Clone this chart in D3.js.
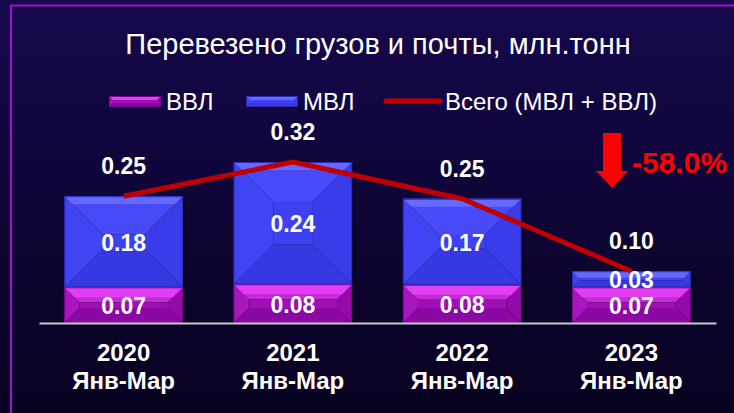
<!DOCTYPE html>
<html><head><meta charset="utf-8">
<script src="https://cdn.jsdelivr.net/npm/d3@7"></script>
<style>html,body{margin:0;padding:0;background:#0a0224;}svg{display:block;}</style>
</head><body>
<svg id="c" width="734" height="413"></svg>
<script>
const years = ["2020", "2021", "2022", "2023"];
const period = "Янв-Мар";
const vvl = [0.071, 0.077, 0.076, 0.071];
const mvl = [0.181, 0.243, 0.171, 0.032];
const totalLabels = ["0.25", "0.32", "0.25", "0.10"];
const changeLabel = "-58.0%";
const title = "Перевезено грузов и почты, млн.тонн";
const legendNames = ["ВВЛ", "МВЛ", "Всего (МВЛ + ВВЛ)"];

const W = 734, H = 413;
const svg = d3.select("#c");
const defs = svg.append("defs");
const bg = defs.append("linearGradient").attr("id","bg").attr("x1",0).attr("y1",0).attr("x2",0).attr("y2",1);
bg.append("stop").attr("offset","0%").attr("stop-color","#15084c");
bg.append("stop").attr("offset","100%").attr("stop-color","#080220");
svg.append("rect").attr("width",W).attr("height",H).attr("fill","url(#bg)");
svg.append("path").attr("d","M11,413 V5.5 H734").attr("fill","none").attr("stroke","#9b12cc").attr("stroke-width",2.2);

const F = "'Liberation Sans', Arial, sans-serif";
svg.append("text").attr("x",378).attr("y",54).attr("text-anchor","middle")
  .attr("fill","#fff").attr("font-family",F).attr("font-size",29).text(title);

const x = d3.scaleBand().domain(years).range([39,716]).paddingInner(0.3).paddingOuter(0.15);
const y = d3.scaleLinear().domain([0,0.35]).range([323, 323-0.35*503]);

const pal = {
  vvl:{band:"#e43ef4", top:"#c42ad8", left:"#a816bf", right:"#930aa9", bot:"#8c08a2", face:"#9e10b6", edge:"#7a0890"},
  mvl:{band:"#6669ff", top:"#474af6", left:"#4144f2", right:"#393ce8", bot:"#3639e2", face:"#3e41f0", edge:"#2a2cb8"}
};

function bevel(g, x0, y0, w, h, c, insetMax, bandH){
  const b = Math.min(w*0.42, h*0.42, insetMax||40);
  const x1 = x0+w, y1 = y0+h;
  const ix0 = x0+b, ix1 = x1-b, iy0 = y0+b, iy1 = y1-b;
  const poly = (pts, fill) => g.append("polygon").attr("points", pts.map(p=>p.join(",")).join(" ")).attr("fill", fill);
  poly([[x0,y0],[x1,y0],[ix1,iy0],[ix0,iy0]], c.top);
  poly([[x0,y0],[ix0,iy0],[ix0,iy1],[x0,y1]], c.left);
  poly([[x1,y0],[x1,y1],[ix1,iy1],[ix1,iy0]], c.right);
  poly([[x0,y1],[ix0,iy1],[ix1,iy1],[x1,y1]], c.bot);
  if (ix1>ix0 && iy1>iy0) g.append("rect").attr("x",ix0).attr("y",iy0).attr("width",ix1-ix0).attr("height",iy1-iy0).attr("fill",c.face);
  const bh = Math.min(bandH||0, h*0.4);
  if (bh>0) poly([[x0,y0],[x1,y0],[x1-bh,y0+bh],[x0+bh,y0+bh]], c.band);
  g.append("rect").attr("x",x0+0.5).attr("y",y0+0.5).attr("width",w-1).attr("height",h-1).attr("fill","none").attr("stroke",c.edge).attr("stroke-width",1);
}

const bars = svg.append("g");
years.forEach((yr,i)=>{
  const bx = x(yr), bw = x.bandwidth();
  bars.append("rect").attr("x",bx+4).attr("y",y(vvl[i]+mvl[i])+3).attr("width",bw).attr("height",y(0)-y(vvl[i]+mvl[i])-3)
    .attr("fill","#000").attr("opacity",0.25);
  bevel(bars, bx, y(vvl[i]), bw, y(0)-y(vvl[i]), pal.vvl, 15, 10);
  bevel(bars, bx, y(vvl[i]+mvl[i]), bw, y(vvl[i])-y(vvl[i]+mvl[i]), pal.mvl, 40, 8);
});

const ax = svg.append("g").attr("transform",`translate(0,${y(0)})`)
  .call(d3.axisBottom(x).tickSize(0).tickFormat(""));
ax.select(".domain").attr("stroke","#c8c8c8").attr("stroke-width",2);

const cl = svg.append("g").attr("font-family",F).attr("font-weight","bold").attr("font-size",24).attr("fill","#fff").attr("text-anchor","middle");
years.forEach(yr=>{
  const cx = x(yr)+x.bandwidth()/2;
  cl.append("text").attr("x",cx).attr("y",361).text(yr);
  cl.append("text").attr("x",cx).attr("y",389).text(period);
});

const tot = years.map((yr,i)=>[x(yr)+x.bandwidth()/2, y(vvl[i]+mvl[i])]);
svg.append("path").attr("d", d3.line()(tot)).attr("fill","none").attr("stroke","#c00000").attr("stroke-width",5).attr("stroke-linejoin","round");

const vl = svg.append("g").attr("font-family",F).attr("font-weight","bold").attr("font-size",23).attr("fill","#fff").attr("text-anchor","middle").attr("dominant-baseline","central");
const f2 = d3.format(".2f");
years.forEach((yr,i)=>{
  const cx = x(yr)+x.bandwidth()/2;
  vl.append("text").attr("x",cx).attr("y",(y(0)+y(vvl[i]))/2+1).text(f2(vvl[i]));
  vl.append("text").attr("x",cx).attr("y",(y(vvl[i])+y(vvl[i]+mvl[i]))/2+1).text(f2(mvl[i]));
  vl.append("text").attr("x",cx).attr("y",y(vvl[i]+mvl[i])-30).text(totalLabels[i]);
});

const lg = svg.append("g").attr("font-family",F).attr("font-size",24).attr("fill","#fff");
bevel(lg, 109, 96, 52, 11, pal.vvl, 4, 4);
lg.append("text").attr("x",166).attr("y",110).text(legendNames[0]);
bevel(lg, 246, 96, 52, 11, pal.mvl, 4, 4);
lg.append("text").attr("x",303).attr("y",110).text(legendNames[1]);
lg.append("line").attr("x1",386).attr("x2",440).attr("y1",101).attr("y2",101).attr("stroke","#c00000").attr("stroke-width",5).attr("stroke-linecap","round");
lg.append("text").attr("x",445).attr("y",110).text(legendNames[2]);

svg.append("polygon").attr("points","603,133 621,133 621,171 628,171 612,188 596,171 603,171").attr("fill","#ff0000");
svg.append("text").attr("x",632).attr("y",173).attr("font-family",F).attr("font-weight","bold").attr("font-size",30).attr("fill","#ff0000").text(changeLabel);
</script>
</body></html>
